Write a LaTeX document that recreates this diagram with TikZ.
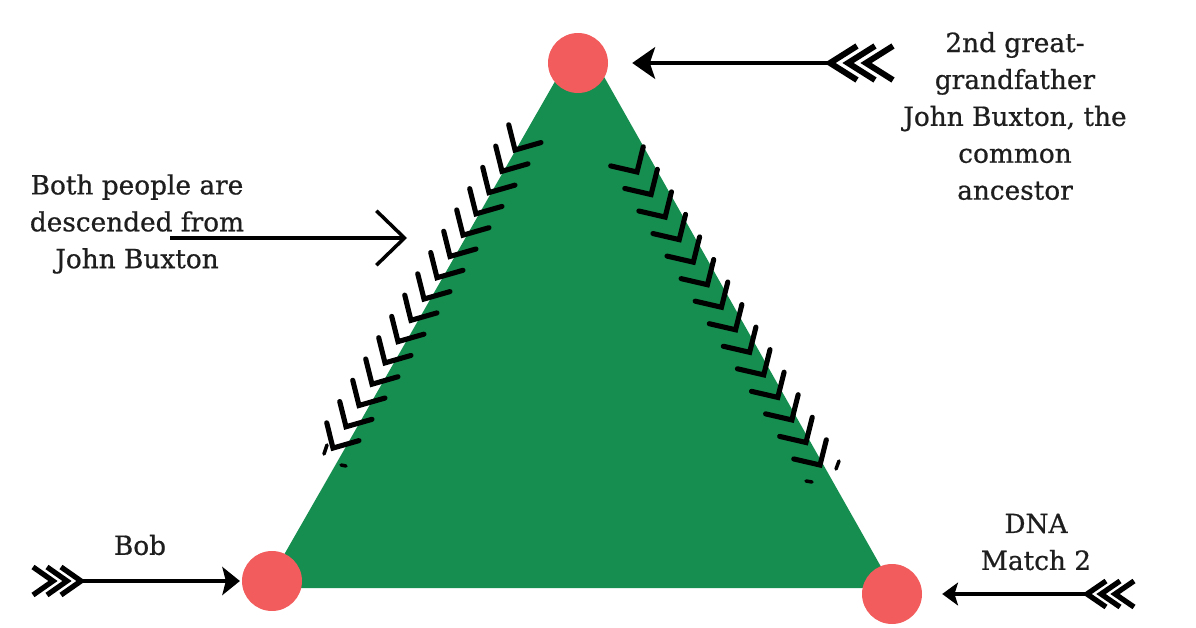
\documentclass[tikz,border=0pt]{standalone}
\usepackage{fontspec}
\setmainfont{DejaVu Serif}[BoldFont=DejaVu Serif, BoldFeatures={FakeBold=0.7}]
\usepackage{tikz}
\usetikzlibrary{arrows.meta,positioning}
\definecolor{leafgreen}{RGB}{22,142,80}
\definecolor{dotred}{RGB}{243,92,92}
\definecolor{inkgray}{RGB}{30,30,30}
\tikzset{
  person/.style={ circle, fill=dotred, minimum size=1.2cm, inner sep=0pt }
}
\tikzset{
  note/.style={ font=\fontsize{15}{21}\selectfont\bfseries, text=inkgray, align=center }
}
\tikzset{
  shaft/.style={ draw=black, line width=2.2pt }
}
\tikzset{
  fletch/.style={ draw=black, line width=3.4pt, miter limit=4 }
}
\tikzset{
  tick/.style={ draw=black, line width=2.9pt, line cap=round }
}

\begin{document}
\begin{tikzpicture}[x=0.02cm, y=-0.02cm]
      \useasboundingbox (0,0) rectangle (1196,628);

      \coordinate (apex) at (581,36);
      \coordinate (left) at (265,588);
      \coordinate (right) at (893,588);
      \fill[leafgreen] (apex) -- (left) -- (right) -- cycle;

      % chevrons along the two sides
      \foreach \i in {0,...,14}
        \draw[tick] (515-13*\i,150+21.29*\i) ++(-104:26) -- ++(76:26) -- ++(-16:27);
      \foreach \i in {0,...,13}
        \draw[tick] (637+14.08*\i,172+22.54*\i) ++(-167:27) -- ++(13:27) -- ++(-76:26);
      \draw[tick, line width=2pt] (327,445) -- (324,454);
      \draw[tick, line width=2pt] (341,465) -- (346,466);
      \draw[tick, line width=2pt] (839,461) -- (836,469);
      \draw[tick, line width=2pt] (806,481) -- (812,482);

      \node[person] (anc) at (578,63) {};
      \node[person] (bob) at (272,581) {};
      \node[person] (match) at (892,594) {};

      \node[note] (anctext) at (1015,116) {2nd great-\\grandfather\\John Buxton, the\\common\\ancestor};
      \node[note] (desc) at (137,224) {Both people are\\descended from\\John Buxton};
      \node[note] (bobtext) at (140,545) {Bob};
      \node[note] (matchtext) at (1036,542) {DNA\\Match 2};

      \coordinate (anctail) at (830,63);
      \coordinate (bobtail) at (81,581);
      \coordinate (matchtail) at (1087,594);
      \coordinate (desctail) at (170,238);
      \coordinate (deschead) at (407,238);

      \draw[shaft, -{Stealth[length=13pt, width=18pt, inset=3pt]}, shorten >=13.6pt] (anctail) -- (anc);
      \foreach \k in {0,1,2}
        \draw[fletch] ([shift={(18*\k+27,-17)}]anctail) -- ([shift={(18*\k,0)}]anctail) -- ([shift={(18*\k+27,17)}]anctail);

      \draw[shaft, line width=1.8pt, -{Stealth[length=10pt, width=16pt, inset=2pt]}, shorten >=1pt] (bobtail) -- (bob);
      \foreach \k in {0,1,2}
        \draw[fletch, line width=3pt] ([shift={(-14*\k-20,-14)}]bobtail) -- ([shift={(-14*\k,0)}]bobtail) -- ([shift={(-14*\k-20,14)}]bobtail);

      \draw[shaft, line width=1.8pt, -{Stealth[length=9pt, width=13pt, inset=2pt]}, shorten >=11.3pt] (matchtail) -- (match);
      \foreach \k in {0,1,2}
        \draw[fletch, line width=3pt] ([shift={(14*\k+19,-13)}]matchtail) -- ([shift={(14*\k,0)}]matchtail) -- ([shift={(14*\k+19,13)}]matchtail);

      \draw[shaft, line width=2pt, -{Straight Barb[length=16pt, width=31pt, line width=2pt]}] (desctail) -- (deschead);
    \end{tikzpicture}
\end{document}
